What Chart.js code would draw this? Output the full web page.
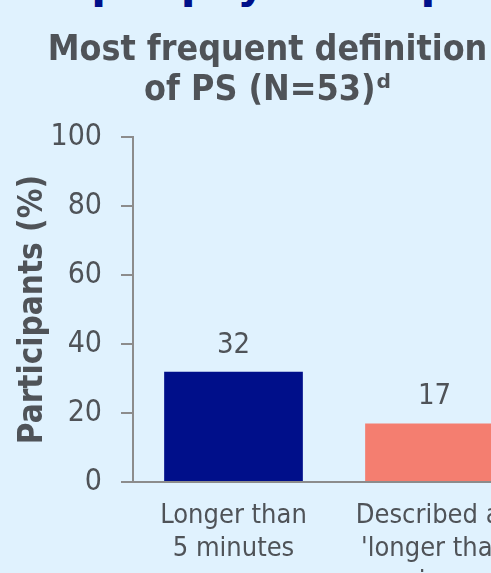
<!DOCTYPE html>
<html>
<head>
<meta charset="utf-8">
<script src="https://cdn.jsdelivr.net/npm/chart.js@4"></script>
<style>
  html, body { margin: 0; padding: 0; background: #e0f2fe; overflow: hidden; width: 491px; height: 573px; }
  #banner { position: absolute; left: 62px; top: -41px; font: bold 43px "DejaVu Sans"; color: #00108a; white-space: nowrap; line-height: 48px; }
  #wrap { position: absolute; left: 0; top: 0; width: 554px; height: 573px; }
</style>
</head>
<body>
<div id="banner">Epilepsy concepts</div>
<div id="wrap"><canvas id="defChart"></canvas></div>
<script>
const titleLines = ["Most frequent definition", "of PS (N=53)ᵈ"];
const categories = [["Longer than", "5 minutes"], ["Described as", "'longer than", "seizure", "duration'"]];
const participants = [32, 17];
const barColors = ["#000f8a", "#f47e70"];
const yMax = 100;
const yStep = 20;

const FONT = 'Tahoma, "DejaVu Sans Condensed", "DejaVu Sans", sans-serif';
const TEXT = "#4f5358";
const AXIS = "#8c8c8c";

// numbers above the bars
const valueLabels = {
  id: "valueLabels",
  afterDatasetsDraw(chart) {
    const ctx = chart.ctx;
    const meta = chart.getDatasetMeta(0);
    ctx.save();
    ctx.font = "29px " + FONT;
    ctx.fillStyle = TEXT;
    ctx.textAlign = "center";
    ctx.textBaseline = "alphabetic";
    meta.data.forEach((bar, i) => {
      ctx.fillText(participants[i], bar.x, bar.y - 19);
    });
    ctx.restore();
  }
};

const ctx = document.getElementById("defChart").getContext("2d");
new Chart(ctx, {
  type: "bar",
  data: {
    labels: categories,
    datasets: [{
      data: participants,
      backgroundColor: barColors,
      barPercentage: 0.69,
      categoryPercentage: 1
    }]
  },
  options: {
    responsive: true,
    maintainAspectRatio: false,
    animation: false,
    layout: { padding: { right: 19 } },
    plugins: {
      legend: { display: false },
      tooltip: { enabled: false },
      title: {
        display: true,
        text: titleLines,
        color: TEXT,
        font: { family: FONT, size: 35.5, weight: "bold", lineHeight: 1.13 },
        padding: { top: 31, bottom: 26 }
      }
    },
    scales: {
      x: {
        grid: { display: false },
        border: { color: AXIS, width: 2 },
        ticks: {
          color: TEXT,
          font: { family: FONT, size: 27, lineHeight: 1.22 },
          padding: 10,
          maxRotation: 0,
          autoSkip: false
        },
        afterFit: s => { s.height = 91; }
      },
      y: {
        min: 0,
        max: yMax,
        ticks: { stepSize: yStep, color: TEXT, font: { family: FONT, size: 30 }, padding: 19 },
        grid: { drawOnChartArea: false, tickLength: 12, color: AXIS, lineWidth: 2 },
        border: { color: AXIS, width: 2 },
        title: {
          display: true,
          text: "Participants (%)",
          color: TEXT,
          font: { family: FONT, size: 33, weight: "bold" },
          padding: { top: 14, bottom: 0 }
        },
        afterFit: s => { s.width = 133; }
      }
    }
  },
  plugins: [valueLabels]
});
</script>
</body>
</html>
